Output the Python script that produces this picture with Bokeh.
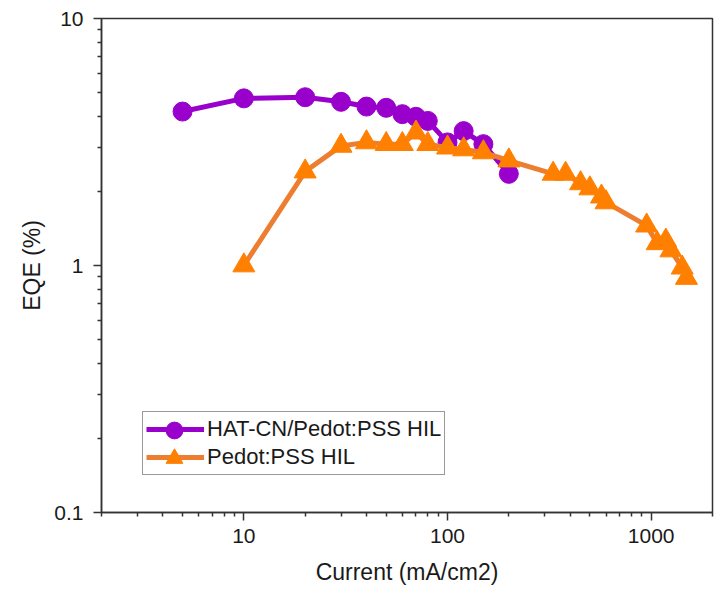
from bokeh.plotting import figure
from bokeh.models import FixedTicker, CustomJSTickFormatter, Range1d, Legend, LegendItem
from bokeh.embed import file_html
from bokeh.resources import INLINE

# ---- data ----
hat_label = "HAT-CN/Pedot:PSS HIL"
hat_x = [5, 10, 20, 30, 40, 50, 60, 70, 80, 100, 120, 150, 200]
hat_y = [4.2, 4.75, 4.8, 4.6, 4.4, 4.35, 4.1, 4.0, 3.85, 3.15, 3.5, 3.1, 2.35]

pedot_label = "Pedot:PSS HIL"
pedot_x = [10, 20, 30, 40, 50, 60, 70, 80, 100, 120, 150, 200,
           330, 380, 450, 500, 570, 600, 950, 1070, 1180, 1250, 1420, 1490]
pedot_y = [1.0, 2.4, 3.05, 3.15, 3.1, 3.1, 3.45, 3.1, 3.0, 2.95, 2.87, 2.66,
           2.35, 2.35, 2.15, 2.05, 1.9, 1.8, 1.45, 1.23, 1.26, 1.15, 0.98, 0.89]

x_major = [10, 100, 1000]
y_major = [0.1, 1, 10]
x_label = "Current (mA/cm2)"
y_label = "EQE (%)"

PURPLE = "#9900CC"
ORANGE_LINE = "#ED7D31"
ORANGE = "#FF8000"
FONT = "Liberation Sans"
AXIS_COLOR = "#333333"
TEXT_COLOR = "#1a1a1a"

x_minor = [m * d for d in (1, 10, 100, 1000) for m in range(2, 10) if m * d <= 2000]
y_minor = [round(m * d, 3) for d in (0.1, 1) for m in range(2, 10)]

p = figure(width=714, height=590,
           x_axis_type="log", y_axis_type="log",
           x_range=Range1d(2, 2000), y_range=Range1d(0.1, 10),
           output_backend="svg", toolbar_location=None,
           min_border_left=101, min_border_right=2,
           min_border_top=18, min_border_bottom=78)

p.background_fill_color = "white"
p.border_fill_color = "white"
p.outline_line_color = AXIS_COLOR
p.outline_line_width = 1.5
p.xgrid.visible = False
p.ygrid.visible = False

fmt = "return String(tick)"
p.xaxis.ticker = FixedTicker(ticks=x_major, minor_ticks=x_minor)
p.yaxis.ticker = FixedTicker(ticks=y_major, minor_ticks=y_minor)
p.xaxis.formatter = CustomJSTickFormatter(code=fmt)
p.yaxis.formatter = CustomJSTickFormatter(code=fmt)

for ax in (p.xaxis, p.yaxis):
    ax.axis_line_color = AXIS_COLOR
    ax.axis_line_width = 1.5
    ax.major_tick_line_color = AXIS_COLOR
    ax.major_tick_line_width = 1.5
    ax.minor_tick_line_color = AXIS_COLOR
    ax.minor_tick_line_width = 1.5
    ax.major_tick_in = 0
    ax.major_tick_out = 8
    ax.minor_tick_in = 0
    ax.minor_tick_out = 4
    ax.major_label_text_font = FONT
    ax.major_label_text_font_size = "21px"
    ax.major_label_text_color = TEXT_COLOR
    ax.axis_label_text_font = FONT
    ax.axis_label_text_font_size = "23px"
    ax.axis_label_text_font_style = "normal"
    ax.axis_label_text_color = TEXT_COLOR

p.xaxis.axis_label = x_label
p.yaxis.axis_label = y_label
p.xaxis.major_label_standoff = 8
p.xaxis.axis_label_standoff = 13
p.yaxis.major_label_standoff = 10
p.yaxis.axis_label_standoff = 6

hat_line = p.line(hat_x, hat_y, line_color=PURPLE, line_width=5)
hat_pts = p.scatter(hat_x, hat_y, marker="circle", size=19, fill_color=PURPLE,
                    line_color=PURPLE)
pedot_line = p.line(pedot_x, pedot_y, line_color=ORANGE_LINE, line_width=5)
pedot_pts = p.scatter(pedot_x, pedot_y, marker="triangle", size=22, fill_color=ORANGE,
                      line_color=ORANGE)

# main legend: lines + labels, with border
main_lg = Legend(items=[LegendItem(label=hat_label, renderers=[hat_line]),
                        LegendItem(label=pedot_label, renderers=[pedot_line])],
                 location=(41, 37))
main_lg.glyph_width = 58
main_lg.glyph_height = 28
main_lg.label_height = 28
main_lg.spacing = 0
main_lg.padding = 3
main_lg.margin = 0
main_lg.label_standoff = 3
main_lg.label_text_font = FONT
main_lg.label_text_font_size = "22px"
main_lg.label_text_color = TEXT_COLOR
main_lg.border_line_color = AXIS_COLOR
main_lg.border_line_width = 1.5
main_lg.background_fill_alpha = 1.0
p.add_layout(main_lg, "center")

# marker overlays for the legend (larger markers centred on each legend line)
def marker_legend(renderer, loc):
    lg = Legend(items=[LegendItem(label=" ", renderers=[renderer])], location=loc)
    lg.glyph_width = 58
    lg.glyph_height = 42
    lg.label_height = 42
    lg.padding = 0
    lg.margin = 0
    lg.label_standoff = 0
    lg.label_text_font_size = "2px"
    lg.border_line_alpha = 0
    lg.background_fill_alpha = 0
    return lg

p.add_layout(marker_legend(hat_pts, (44, 61)), "center")
p.add_layout(marker_legend(pedot_pts, (44, 33)), "center")

open("out.html", "w").write(file_html(p, INLINE))
